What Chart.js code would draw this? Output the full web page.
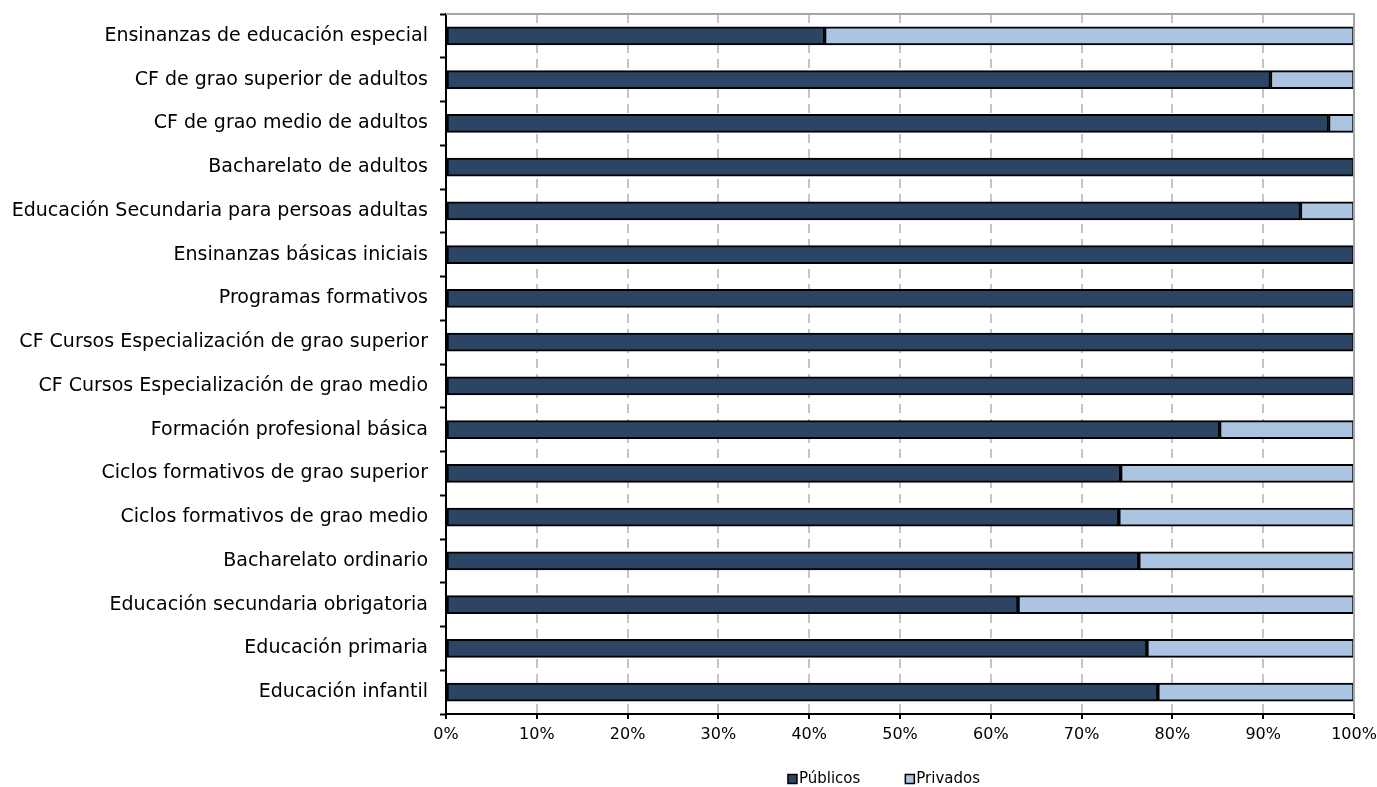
<!DOCTYPE html>
<html>
<head>
<meta charset="utf-8">
<script src="https://cdn.jsdelivr.net/npm/chart.js@4/dist/chart.umd.min.js"></script>
<style>
html,body{margin:0;padding:0;background:#fff;}
#wrap{width:1377px;height:787px;position:relative;}
</style>
</head>
<body>
<div id="wrap"><canvas id="c" width="1377" height="787"></canvas></div>
<script>
const categories = [
  "Ensinanzas de educación especial",
  "CF de grao superior de adultos",
  "CF de grao medio de adultos",
  "Bacharelato de adultos",
  "Educación Secundaria para persoas adultas",
  "Ensinanzas básicas iniciais",
  "Programas formativos",
  "CF Cursos Especialización de grao superior",
  "CF Cursos Especialización de grao medio",
  "Formación profesional básica",
  "Ciclos formativos de grao superior",
  "Ciclos formativos de grao medio",
  "Bacharelato ordinario",
  "Educación secundaria obrigatoria",
  "Educación primaria",
  "Educación infantil"
];
const publicos = [41.7, 90.8, 97.2, 100, 94.1, 100, 100, 100, 100, 85.2, 74.3, 74.1, 76.3, 63.0, 77.2, 78.4];
const privados = [58.3, 9.2, 2.8, 0, 5.9, 0, 0, 0, 0, 14.8, 25.7, 25.9, 23.7, 37.0, 22.8, 21.6];
const seriesNames = ["Públicos", "Privados"];
const xTicks = [0, 10, 20, 30, 40, 50, 60, 70, 80, 90, 100];

const FONT = "'DejaVu Sans', sans-serif";

const frame = {
  id: 'frame',
  afterDatasetsDraw(chart) {
    const a = chart.chartArea, ctx = chart.ctx;
    ctx.save();
    ctx.strokeStyle = '#a6a6a6';
    ctx.lineWidth = 2;
    ctx.beginPath();
    ctx.moveTo(a.left, a.top);
    ctx.lineTo(a.right, a.top);
    ctx.lineTo(a.right, a.bottom);
    ctx.stroke();
    ctx.restore();
  }
};

const customLegend = {
  id: 'customLegend',
  afterDraw(chart) {
    const ctx = chart.ctx;
    const a = chart.chartArea;
    const ds = chart.data.datasets;
    ctx.save();
    ctx.font = "15px " + FONT;
    ctx.textBaseline = 'middle';
    const box = 9, gapText = 2, gapItem = 45;
    const widths = ds.map(d => box + gapText + ctx.measureText(d.label).width);
    const total = widths.reduce((s, w) => s + w, 0) + gapItem * (ds.length - 1);
    let x = (a.left + a.right) / 2 - 16 - total / 2;
    const yc = 779;
    ds.forEach((d, i) => {
      ctx.fillStyle = d.backgroundColor;
      ctx.fillRect(x, yc - box / 2, box, box);
      ctx.strokeStyle = '#000';
      ctx.lineWidth = 1.5;
      ctx.strokeRect(x, yc - box / 2, box, box);
      ctx.fillStyle = '#000';
      ctx.fillText(d.label, x + box + gapText, yc);
      x += widths[i] + gapItem;
    });
    ctx.restore();
  }
};

new Chart(document.getElementById('c'), {
  type: 'bar',
  data: {
    labels: categories,
    datasets: [
      { label: seriesNames[0], data: publicos, backgroundColor: '#2c4565', borderColor: '#000', borderWidth: 2, barThickness: 18, borderSkipped: false },
      { label: seriesNames[1], data: privados, backgroundColor: '#abc4e2', borderColor: '#000', borderWidth: 2, barThickness: 18, borderSkipped: false }
    ]
  },
  options: {
    indexAxis: 'y',
    responsive: false,
    animation: false,
    devicePixelRatio: 1,
    layout: { padding: { top: 14, right: 23, bottom: 43, left: 0 } },
    plugins: { legend: { display: false }, tooltip: { enabled: false } },
    scales: {
      x: {
        stacked: true,
        min: 0, max: 100,
        afterBuildTicks(s) { s.ticks = xTicks.map(v => ({ value: v })); },
        afterFit(s) { s.height = 30; s.paddingLeft = 0; s.paddingRight = 0; },
        ticks: { color: '#000', font: { family: FONT, size: 16 }, padding: 6, maxRotation: 0, callback: v => v + '%' },
        grid: {
          color: (c) => (c.tick && (c.tick.value === 0 || c.tick.value === 100)) ? 'rgba(0,0,0,0)' : '#c4c4c4',
          lineWidth: 2,
          tickColor: '#000', tickLength: 5, tickWidth: 2,
          tickBorderDash: []
        },
        border: { color: '#000', width: 2, dash: [9, 6] }
      },
      y: {
        stacked: true,
        afterFit(s) { s.width = 446; s.paddingTop = 0; s.paddingBottom = 0; },
        ticks: { color: '#000', font: { family: FONT, size: 19 }, padding: 12, autoSkip: false },
        grid: { offset: true, drawOnChartArea: false, tickColor: '#000', tickLength: 6, tickWidth: 2 },
        border: { color: '#000', width: 2 }
      }
    }
  },
  plugins: [frame, customLegend]
});
</script>
</body>
</html>
